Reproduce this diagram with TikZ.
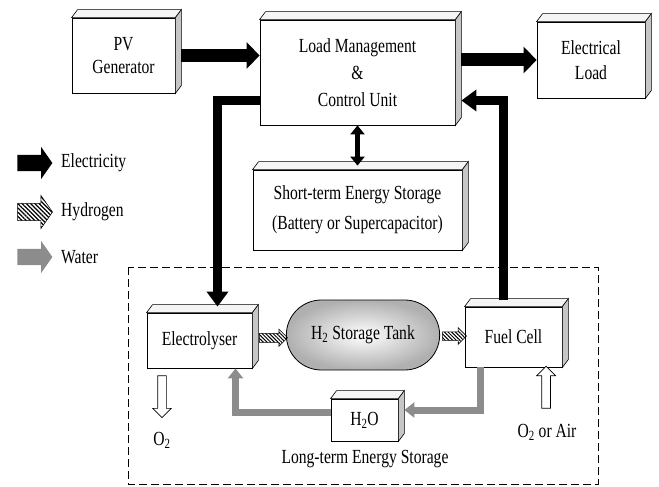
\documentclass[tikz,border=0pt]{standalone}
\usepackage{fontspec}
\setmainfont[FakeStretch=0.78]{Liberation Serif}
\usetikzlibrary{arrows.meta, shapes.arrows, shapes.misc, patterns.meta}

\begin{document}
\begin{tikzpicture}[x=1pt, y=-1pt, font=\fontsize{20}{25}\selectfont,
                    box/.style = {draw, fill=white, line width=0.8pt, align=center, inner sep=0pt},
                    topface/.style = {draw, fill=gray!8, line width=0.6pt},
                    sideface/.style = {draw, fill=gray!45, line width=0.6pt},
                    elec/.style = {line width=13pt, -{Triangle[length=13pt, width=26pt]}},
                    elecline/.style = {line width=9pt, -{Triangle[length=15pt, width=21pt]}},
                    elecdbl/.style = {line width=5pt, {Triangle[length=9pt, width=14pt]}-{Triangle[length=9pt, width=14pt]}},
                    wtr/.style = {color=black!45, line width=7pt, -{Triangle[length=10pt, width=15pt]}},
                    hyd/.style = {single arrow, draw, line width=0.5pt, inner sep=0pt, minimum height=#1, text height=4pt, text depth=4pt,
                                  single arrow head extend=4pt, pattern={Lines[angle=-45, distance=2.6pt, line width=1pt]}},
                    oarr/.style = {single arrow, draw, fill=white, line width=0.7pt, inner sep=0pt, minimum height=42pt,
                                   text height=4pt, text depth=4pt, single arrow head extend=5pt},
                    leg/.style = {single arrow, inner sep=0pt, minimum height=35pt, text height=8pt, text depth=8pt,
                                  single arrow head extend=8pt, single arrow tip angle=110},
                    lbl/.style = {inner sep=1pt}]
                    \useasboundingbox (0,0) rectangle (659,487);
                    \draw[dashed, dash pattern=on 8pt off 4pt, line width=0.9pt] (128,267) rectangle (598,484);
                    \node[box, minimum width=103pt, minimum height=75pt] (pv) at (123.5,55.5) {PV\\[-2pt]Generator};
                    \node[box, minimum width=195pt, minimum height=105pt] (lmc) at (357.5,72.5) {Load Management\\[2pt]\&\\[2pt]Control Unit};
                    \node[box, minimum width=108pt, minimum height=76pt] (load) at (591,60) {Electrical\\Load};
                    \node[box, minimum width=209pt, minimum height=80pt] (sts) at (357.5,210) {Short-term Energy Storage\\[5pt](Battery or Supercapacitor)};
                    \node[box, minimum width=105pt, minimum height=55pt] (ely) at (199.5,340.5) {Electrolyser};
                    \node[draw, rounded rectangle, line width=0.8pt, minimum width=160pt, minimum height=70pt,
                          inner color=white, outer color=gray!62] (tank) at (363,335) {H\textsubscript{2} Storage Tank};
                    \node[box, minimum width=97pt, minimum height=60pt] (fc) at (513.5,337) {Fuel Cell};
                    \node[box, minimum width=67pt, minimum height=42pt] (wat) at (364.5,420) {H\textsubscript{2}O};
                    \foreach \b in {pv,lmc,load,sts,ely,fc,wat}{
                        \draw[topface] (\b.north west) -- ++(6,-8) -- ([shift={(6,-8)}]\b.north east) -- (\b.north east) -- cycle;
                        \draw[sideface] (\b.north east) -- ++(6,-8) -- ([shift={(6,-8)}]\b.south east) -- (\b.south east) -- cycle;
                    }
                    \node[lbl] (ltlbl) at (365,459) {Long-term Energy Storage};
                    \node[lbl] (o2lbl) at (162,440) {O\textsubscript{2}};
                    \node[lbl] (airlbl) at (547,432) {O\textsubscript{2} or Air};
                    \node[leg, fill=black] (le) at (32,163) {};
                    \node[leg, draw, line width=0.5pt, pattern={Lines[angle=-45, distance=3pt, line width=1.3pt]}] (lh) at (32,212) {};
                    \node[leg, fill=black!45] (lw) at (32,257) {};
                    \node[lbl, anchor=west] (tle) at (60,163) {Electricity};
                    \node[lbl, anchor=west] (tlh) at (60,212) {Hydrogen};
                    \node[lbl, anchor=west] (tlw) at (60,257) {Water};
                    \draw[elec] ([xshift=6pt]pv.east) -- (pv.east -| lmc.west);
                    \draw[elec] ([xshift=6pt]load.west -| lmc.east) -- (load.west);
                    \draw[elecline] ([shift={(0,28)}]lmc.west) -| ([shift={(18,-6)}]ely.north);
                    \draw[elecline] ([shift={(-10,-7)}]fc.north) |- ([shift={(6,28)}]lmc.east);
                    \draw[elecdbl] (lmc.south) -- ([shift={(0,-4)}]sts.north);
                    \path ([xshift=4pt]ely.east) -- node[hyd=28pt] (h2a) {} (tank.west);
                    \path (tank.east) -- node[hyd=24pt] (h2b) {} (fc.west);
                    \draw[wtr] ([xshift=-33pt]fc.south) |- ([shift={(6,-10)}]wat.east);
                    \draw[wtr] ([shift={(0,-8)}]wat.west) -| ([xshift=36pt]ely.south);
                    \path ([xshift=-37.5pt]ely.south) -- node[oarr, rotate=270, pos=0.42] (o2a) {} (o2lbl.north);
                    \path (airlbl.north) -- node[oarr, rotate=90, pos=0.6] (aira) {} ([xshift=32pt]fc.south);
                \end{tikzpicture}
\end{document}
